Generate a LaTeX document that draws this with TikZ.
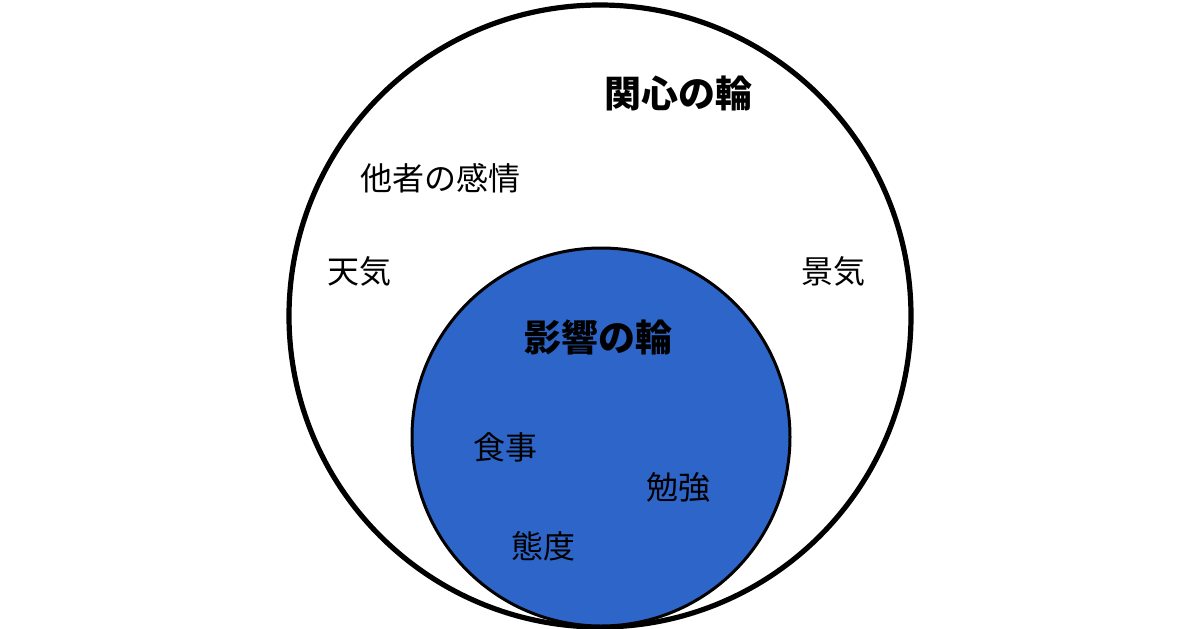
\documentclass[tikz,border=0pt]{standalone}
\usepackage{fontspec}
\newfontfamily\jpfont{Noto Sans CJK JP}
\definecolor{ringblue}{RGB}{46,101,201}
\begin{document}
\begin{tikzpicture}[x=0.5pt, y=-0.5pt,
    ring/.style={circle, draw=black, inner sep=0pt},
    item/.style={font={\jpfont\fontsize{16}{19}\selectfont}, text=black},
    ringtitle/.style={font={\jpfont\bfseries\fontsize{18.5}{22}\selectfont}, text=black}]
  \useasboundingbox[fill=white] (0,0) rectangle (1200,628);
  % circle of concern
  \node[ring, line width=2.6pt, minimum size=311pt] (concern) at (600,316) {};
  % circle of influence
  \node[ring, line width=1.5pt, fill=ringblue, minimum size=189pt] (influence) at (601,437) {};
  % ring titles
  \node[ringtitle] (concerntitle) at (678,93) {関心の輪};
  \node[ringtitle] (influencetitle) at (598,337) {影響の輪};
  % items
  \foreach \p/\t [count=\n] in {{(440,178)}/他者の感情, {(359,271)}/天気, {(833,271)}/景気, {(505,447)}/食事, {(678,487)}/勉強, {(543,546)}/態度} {
    \node[item] (item\n) at \p {\t};
  }
\end{tikzpicture}
\end{document}
